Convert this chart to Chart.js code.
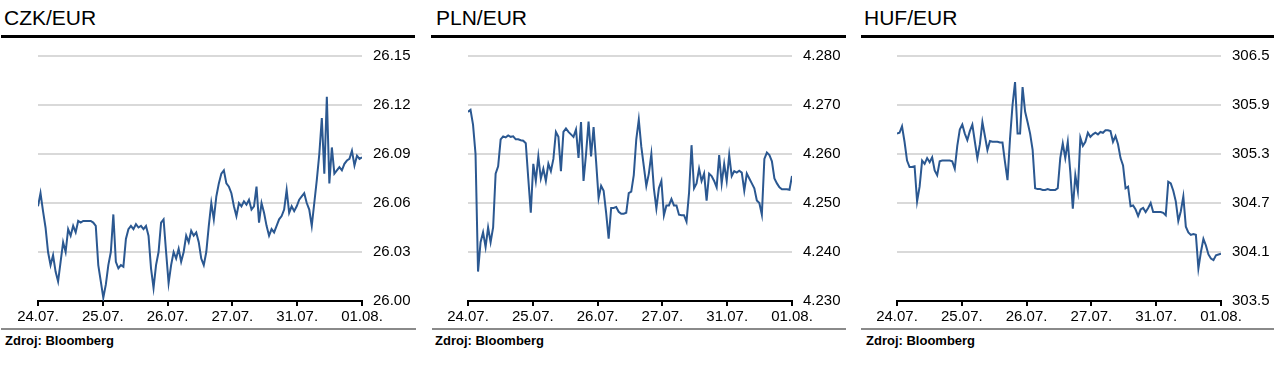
<!DOCTYPE html>
<html><head><meta charset="utf-8">
<script src="https://cdn.jsdelivr.net/npm/chart.js@4.4.1/dist/chart.umd.min.js"></script>
<style>
body{margin:0;width:1284px;height:365px;background:#fff;position:relative;overflow:hidden;font-family:'Liberation Sans',Arial,sans-serif;}
.title{position:absolute;top:8px;font-size:21px;line-height:20px;color:#000;white-space:nowrap;}
.rule{position:absolute;top:35px;height:3px;background:#000;}
.foot{position:absolute;top:328px;height:2px;background:#8a8a8a;}
.src{position:absolute;top:334px;font-size:13px;font-weight:bold;line-height:14px;color:#000;white-space:nowrap;}
canvas{position:absolute;top:0;}
</style></head>
<body>
<div class="title" style="left:4px">CZK/EUR</div>
<div class="title" style="left:436px">PLN/EUR</div>
<div class="title" style="left:864px">HUF/EUR</div>
<div class="rule" style="left:1px;width:414px"></div>
<div class="rule" style="left:431px;width:415px"></div>
<div class="rule" style="left:861px;width:413px"></div>
<canvas id="c1" width="430" height="330" style="left:0px"></canvas>
<canvas id="c2" width="430" height="330" style="left:430px"></canvas>
<canvas id="c3" width="430" height="330" style="left:859px"></canvas>
<div class="foot" style="left:1px;width:415px"></div>
<div class="foot" style="left:432px;width:414px"></div>
<div class="foot" style="left:861px;width:413px"></div>
<div class="src" style="left:5px">Zdroj: Bloomberg</div>
<div class="src" style="left:435px">Zdroj: Bloomberg</div>
<div class="src" style="left:866px">Zdroj: Bloomberg</div>
<script>
const dayLabels = ['24.07.','25.07.','26.07.','27.07.','31.07.','01.08.'];

const czkTicks = [26.00,26.03,26.06,26.09,26.12,26.15];
const plnTicks = [4.230,4.240,4.250,4.260,4.270,4.280];
const hufTicks = [303.5,304.1,304.7,305.3,305.9,306.5];

const czkValues = [
26.058,26.066,26.055,26.045,26.030,26.022,26.028,26.018,26.012,26.024,
26.036,26.030,26.044,26.040,26.046,26.042,26.049,26.048,26.049,26.049,
26.049,26.049,26.048,26.046,26.022,26.012,26.002,26.010,26.022,26.030,
26.053,26.024,26.020,26.022,26.021,26.038,26.044,26.046,26.044,26.047,
26.045,26.046,26.044,26.046,26.040,26.020,26.008,26.022,26.030,26.048,
26.050,26.030,26.011,26.022,26.030,26.026,26.032,26.024,26.030,26.040,
26.036,26.043,26.040,26.042,26.036,26.026,26.022,26.030,26.046,26.060,
26.050,26.064,26.072,26.078,26.080,26.072,26.070,26.066,26.058,26.052,
26.060,26.058,26.061,26.059,26.062,26.056,26.058,26.070,26.048,26.060,
26.054,26.046,26.040,26.044,26.042,26.046,26.050,26.052,26.056,26.068,
26.054,26.058,26.055,26.058,26.062,26.064,26.066,26.060,26.056,26.046,
26.060,26.074,26.090,26.112,26.078,26.125,26.072,26.094,26.078,26.080,
26.082,26.080,26.084,26.086,26.087,26.092,26.083,26.089,26.087,26.088
];

const plnValues = [
4.2686,4.2690,4.2660,4.2600,4.2360,4.2420,4.2440,4.2410,4.2450,4.2420,
4.2450,4.2560,4.2575,4.2630,4.2636,4.2634,4.2638,4.2635,4.2636,4.2630,
4.2630,4.2628,4.2627,4.2622,4.2550,4.2480,4.2580,4.2545,4.2595,4.2550,
4.2570,4.2545,4.2580,4.2565,4.2590,4.2645,4.2635,4.2565,4.2645,4.2652,
4.2645,4.2640,4.2635,4.2650,4.2592,4.2665,4.2545,4.2600,4.2666,4.2595,
4.2655,4.2585,4.2510,4.2535,4.2525,4.2480,4.2427,4.2490,4.2490,4.2492,
4.2482,4.2478,4.2478,4.2480,4.2520,4.2523,4.2557,4.2630,4.2670,4.2615,
4.2575,4.2535,4.2560,4.2600,4.2530,4.2489,4.2530,4.2545,4.2475,4.2495,
4.2495,4.2508,4.2495,4.2495,4.2476,4.2475,4.2475,4.2462,4.2520,4.2618,
4.2530,4.2540,4.2570,4.2545,4.2560,4.2505,4.2560,4.2555,4.2545,4.2532,
4.2598,4.2540,4.2580,4.2545,4.2598,4.2555,4.2565,4.2562,4.2566,4.2562,
4.2525,4.2560,4.2550,4.2540,4.2530,4.2505,4.2500,4.2476,4.2590,4.2603,
4.2598,4.2585,4.2550,4.2540,4.2532,4.2528,4.2528,4.2528,4.2527,4.2555
];

const hufValues = [
305.55,305.56,305.64,305.45,305.22,305.14,305.14,305.15,304.72,304.90,
305.22,305.18,305.25,305.20,305.26,305.10,305.04,305.21,305.22,305.22,
305.22,305.22,305.21,305.12,305.40,305.60,305.66,305.55,305.47,305.58,
305.66,305.45,305.25,305.42,305.69,305.52,305.35,305.46,305.45,305.45,
305.45,305.44,305.44,305.20,304.98,305.49,305.90,306.18,305.55,305.55,
306.12,305.82,305.69,305.55,305.35,304.88,304.87,304.87,304.86,304.86,
304.87,304.86,304.86,304.86,304.88,305.25,305.43,305.25,305.45,305.08,
304.63,305.04,304.85,305.50,305.40,305.45,305.56,305.51,305.54,305.56,
305.54,305.57,305.56,305.59,305.59,305.58,305.45,305.52,305.42,305.25,
305.16,304.88,304.90,304.66,304.67,304.62,304.54,304.62,304.64,304.59,
304.64,304.70,304.59,304.59,304.59,304.59,304.58,304.55,304.96,304.94,
304.85,304.72,304.48,304.60,304.78,304.41,304.34,304.31,304.32,304.31,
303.90,304.10,304.26,304.18,304.07,304.02,304.00,304.06,304.07,304.08
];

const FONT = "'Liberation Sans', Arial, sans-serif";
const LINE_COLOR = '#2b5891';

function makeChart(id, values, ticks, decimals) {
  const n = values.length;
  const lastDay = dayLabels.length - 1;
  const yMin = ticks[0], yMax = ticks[ticks.length - 1];
  new Chart(document.getElementById(id), {
    type: 'line',
    data: {
      datasets: [{
        data: values.map((v, i) => ({x: i * lastDay / (n - 1), y: v})),
        borderColor: LINE_COLOR,
        borderWidth: 2,
        pointRadius: 0,
        tension: 0,
        fill: false
      }]
    },
    options: {
      responsive: false,
      animation: false,
      devicePixelRatio: 1,
      layout: {padding: {left: 38, top: 56, right: 0, bottom: 4}},
      plugins: {legend: {display: false}, tooltip: {enabled: false}},
      scales: {
        x: {
          type: 'linear', min: 0, max: lastDay,
          afterBuildTicks: s => { s.ticks = dayLabels.map((l, i) => ({value: i})); },
          afterFit: s => { s.height = 25; },
          ticks: {
            callback: v => dayLabels[v],
            maxRotation: 0, autoSkip: false, padding: 2,
            color: '#000', font: {family: FONT, size: 15}
          },
          grid: {drawOnChartArea: false, drawTicks: true, tickLength: 5, color: '#000', lineWidth: 2},
          border: {display: true, color: '#000', width: 2}
        },
        y: {
          position: 'right', min: yMin, max: yMax,
          afterBuildTicks: s => { s.ticks = ticks.map(v => ({value: v})); },
          afterFit: s => { s.width = 68; },
          ticks: {
            callback: v => Number(v).toFixed(decimals),
            padding: 11, color: '#000', font: {family: FONT, size: 15}
          },
          grid: {
            color: c => (c.tick && Math.abs(c.tick.value - yMin) < 1e-9) ? '#000' : '#d9d9d9',
            lineWidth: 2, drawTicks: false
          },
          border: {display: false}
        }
      }
    }
  });
}

makeChart('c1', czkValues, czkTicks, 2);
makeChart('c2', plnValues, plnTicks, 3);
makeChart('c3', hufValues, hufTicks, 1);
</script>
</body></html>
